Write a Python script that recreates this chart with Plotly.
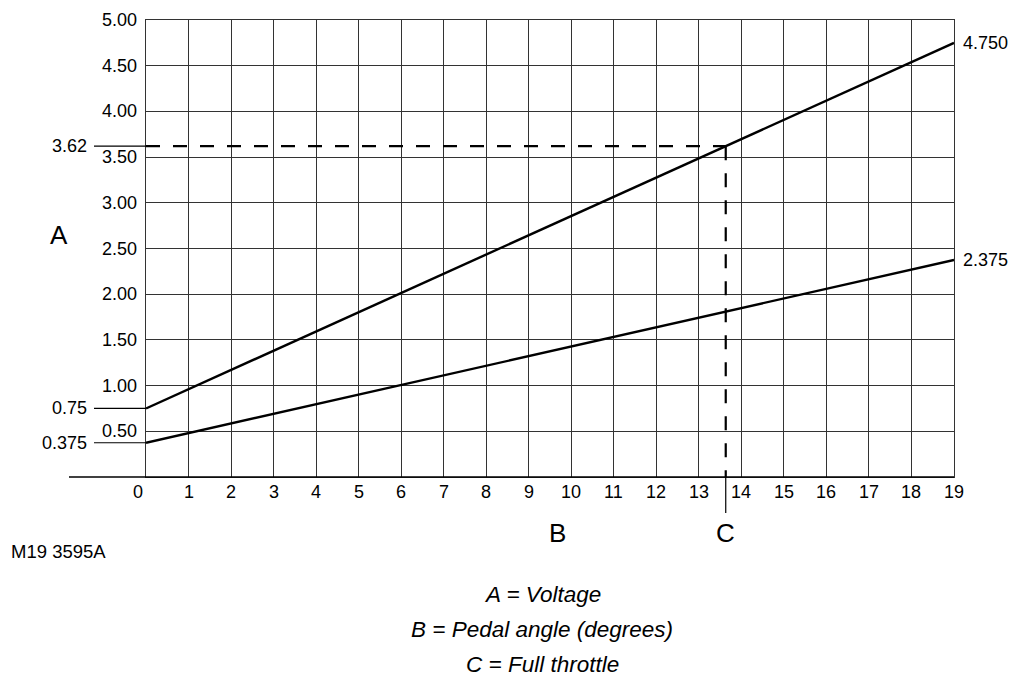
import numpy as np
import plotly.graph_objects as go

# ---- data -------------------------------------------------------------
pedal_angle = [0, 19]                 # degrees
voltage_high = [0.75, 4.75]           # upper sensor track
voltage_low = [0.375, 2.375]          # lower sensor track
full_throttle_voltage = 3.62

x_ticks = list(range(0, 20))
y_ticks = [0.5, 1.0, 1.5, 2.0, 2.5, 3.0, 3.5, 4.0, 4.5, 5.0]
y_tick_text = ["0.50", "1.00", "1.50", "2.00", "2.50", "3.00", "3.50", "4.00", "4.50", "5.00"]

captions = ["A = Voltage", "B = Pedal angle (degrees)", "C = Full throttle"]
drawing_ref = "M19 3595A"

# pedal angle where the upper track reaches the full-throttle voltage
full_throttle_angle = float(np.interp(full_throttle_voltage, voltage_high, pedal_angle))

# ---- layout geometry --------------------------------------------------
W, H = 1012, 679
ML, MR, MT, MB = 146, 58, 20, 202
PW, PH = W - ML - MR, H - MT - MB
X_RANGE = [0, 19]
Y_RANGE = [0, 5]

FONT = "Liberation Sans, Arial, Helvetica, sans-serif"
GRID = "#333333"


def px_x(dx):
    """horizontal pixel offset from the plot's left edge -> paper units"""
    return dx / PW


def px_y(dy):
    """vertical pixel offset from the plot's bottom edge (up positive) -> paper units"""
    return dy / PH


def data_y(v):
    return (v - Y_RANGE[0]) / (Y_RANGE[1] - Y_RANGE[0])


def data_x(v):
    return (v - X_RANGE[0]) / (X_RANGE[1] - X_RANGE[0])


fig = go.Figure()

for yv in (voltage_high, voltage_low):
    fig.add_trace(go.Scatter(
        x=pedal_angle, y=yv, mode="lines",
        line=dict(color="black", width=2.4),
        hoverinfo="skip", showlegend=False, cliponaxis=False,
    ))

shapes = []
annotations = []

# bottom axis line, extended to the left of the grid
shapes.append(dict(type="line", xref="paper", yref="paper",
                   x0=px_x(-77), x1=1, y0=0, y1=0,
                   line=dict(color="black", width=1.6)))

# leader lines for the values called out on the left
for v in (voltage_high[0], voltage_low[0], full_throttle_voltage):
    shapes.append(dict(type="line", xref="paper", yref="paper",
                       x0=px_x(-52), x1=0, y0=data_y(v), y1=data_y(v),
                       line=dict(color="black", width=1.2)))

# full-throttle dashed guides
shapes.append(dict(type="line", xref="x", yref="y",
                   x0=0, x1=full_throttle_angle,
                   y0=full_throttle_voltage, y1=full_throttle_voltage,
                   line=dict(color="black", width=2.2, dash="14px,13px")))
shapes.append(dict(type="line", xref="x", yref="y",
                   x0=full_throttle_angle, x1=full_throttle_angle,
                   y0=full_throttle_voltage, y1=0,
                   line=dict(color="black", width=2.2, dash="14px,13px")))
shapes.append(dict(type="line", xref="paper", yref="paper",
                   x0=data_x(full_throttle_angle), x1=data_x(full_throttle_angle),
                   y0=0, y1=px_y(-36),
                   line=dict(color="black", width=1.2)))

# y tick labels
for v, t in zip(y_ticks, y_tick_text):
    annotations.append(dict(xref="paper", yref="y", x=0, y=v, text=t,
                            xanchor="right", yanchor="middle", xshift=-7,
                            showarrow=False, font=dict(size=18, color="black")))

# x tick labels
for v in x_ticks:
    annotations.append(dict(xref="x", yref="paper", x=v, y=0, text=str(v),
                            xanchor="center", yanchor="middle", yshift=-15,
                            xshift=-8 if v == 0 else 0,
                            showarrow=False, font=dict(size=18, color="black")))

# left call-out values
left_vals = [(voltage_high[0], "0.75"), (voltage_low[0], "0.375"),
             (full_throttle_voltage, f"{full_throttle_voltage:.2f}")]
for v, t in left_vals:
    annotations.append(dict(xref="paper", yref="y", x=px_x(-57), y=v, text=t,
                            xanchor="right", yanchor="middle",
                            showarrow=False, font=dict(size=18, color="black")))

# right end values
for yv in (voltage_high, voltage_low):
    annotations.append(dict(xref="x", yref="y", x=pedal_angle[-1], y=yv[-1],
                            text=f"{yv[-1]:.3f}", xanchor="left", yanchor="middle",
                            xshift=7, showarrow=False,
                            font=dict(size=18, color="black")))

# axis letters
annotations.append(dict(xref="paper", yref="paper", x=px_x(-87), y=px_y(477 - 235),
                        text="A", xanchor="center", yanchor="middle",
                        showarrow=False, font=dict(size=26, color="black")))
annotations.append(dict(xref="paper", yref="paper", x=px_x(557 - ML), y=0,
                        text="B", xanchor="center", yanchor="middle", yshift=-56,
                        showarrow=False, font=dict(size=26, color="black")))
annotations.append(dict(xref="x", yref="paper", x=full_throttle_angle, y=0,
                        text="C", xanchor="center", yanchor="middle", yshift=-56,
                        showarrow=False, font=dict(size=26, color="black")))

# drawing reference
annotations.append(dict(xref="paper", yref="paper", x=px_x(9 - ML), y=0,
                        text=drawing_ref, xanchor="left", yanchor="middle",
                        yshift=-74, showarrow=False,
                        font=dict(size=18.5, color="black")))

# key below the chart
for i, c in enumerate(captions):
    annotations.append(dict(xref="paper", yref="paper", x=px_x(542 - ML), y=0,
                            text=f"<i>{c}</i>", xanchor="center", yanchor="middle",
                            yshift=-(117 + 35 * i), showarrow=False,
                            font=dict(size=22.5, color="black")))

fig.update_layout(
    width=W, height=H,
    margin=dict(l=ML, r=MR, t=MT, b=MB, pad=0),
    paper_bgcolor="white", plot_bgcolor="white",
    font=dict(family=FONT, color="black"),
    xaxis=dict(range=X_RANGE, tickvals=x_ticks, showticklabels=False,
               showgrid=True, gridcolor=GRID, gridwidth=1,
               showline=True, linecolor=GRID, linewidth=1, mirror=True,
               zeroline=False, ticks="", fixedrange=True),
    yaxis=dict(range=Y_RANGE, tickvals=y_ticks, showticklabels=False,
               showgrid=True, gridcolor=GRID, gridwidth=1,
               showline=True, linecolor=GRID, linewidth=1, mirror=True,
               zeroline=False, ticks="", fixedrange=True),
    shapes=shapes,
    annotations=annotations,
    showlegend=False,
)

fig.write_html("out.html", config={"displayModeBar": False})
